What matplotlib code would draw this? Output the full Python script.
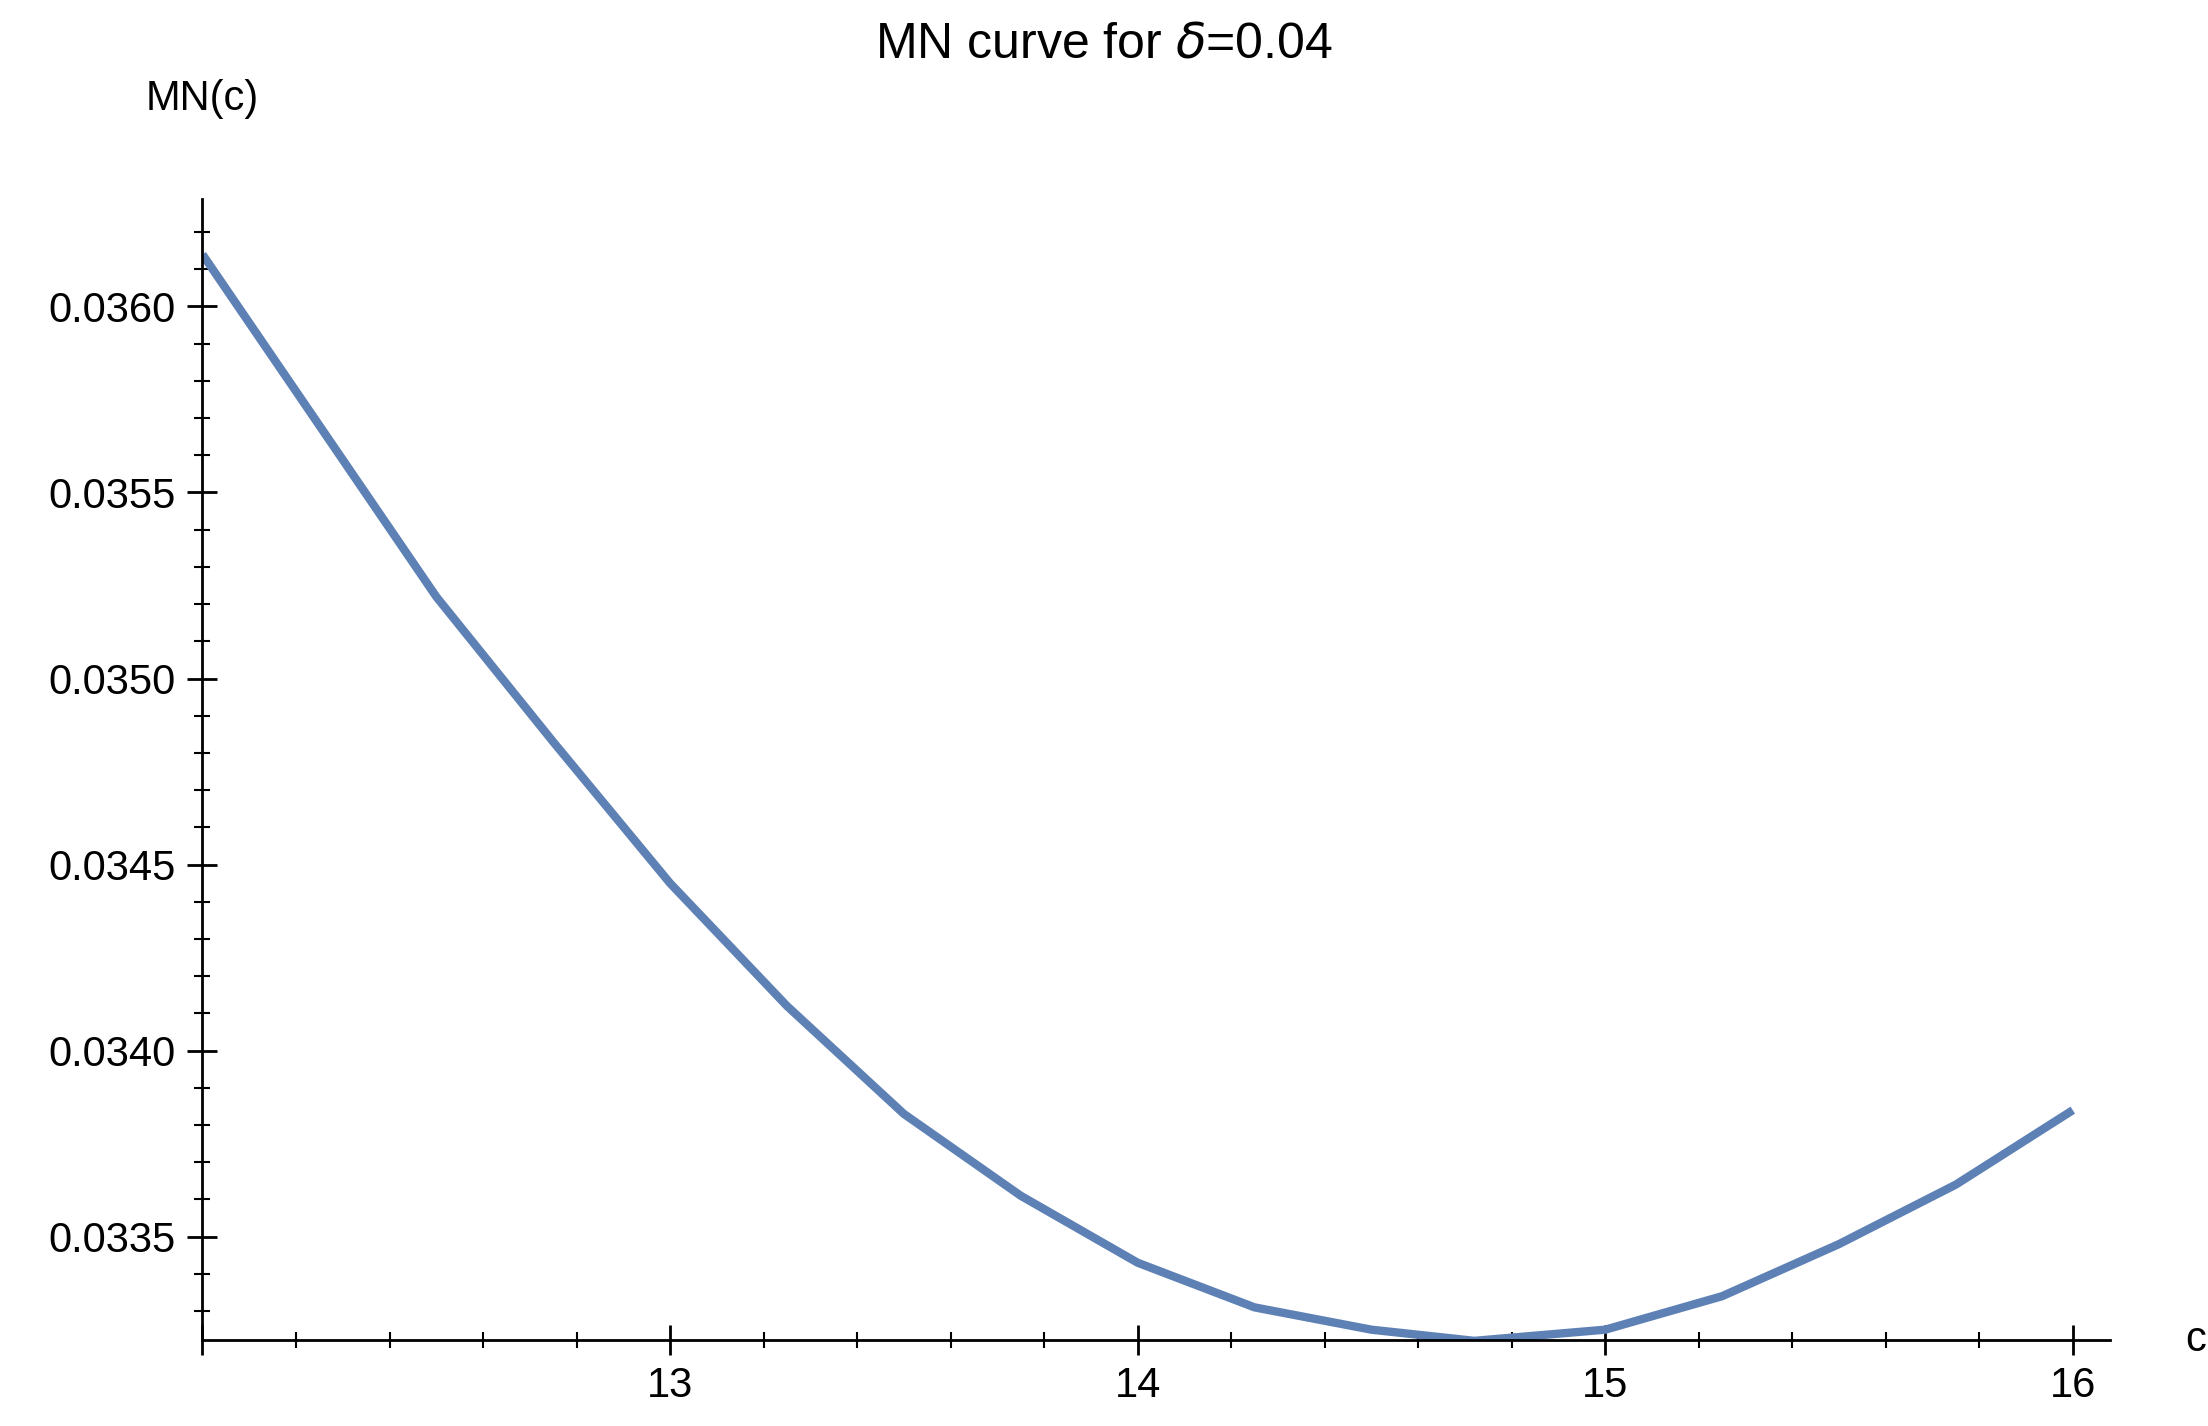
import matplotlib
matplotlib.use("Agg")
import matplotlib.pyplot as plt
import numpy as np
from matplotlib.ticker import MultipleLocator, FixedLocator

c_vals = [12.0, 12.25, 12.5, 12.75, 13.0, 13.25, 13.5, 13.75, 14.0, 14.25, 14.5, 14.72, 15.0, 15.25, 15.5, 15.75, 16.0]
mn_vals = [0.03614, 0.03568, 0.03522, 0.03483, 0.03445, 0.03412, 0.03383, 0.03361, 0.03343, 0.03331, 0.03325, 0.03322, 0.03325, 0.03334, 0.03348, 0.03364, 0.03384]

plt.rcParams['font.family'] = ['Liberation Sans', 'DejaVu Sans']
fig = plt.figure(figsize=(22.08, 14.26), dpi=100)
ax = fig.add_axes([0.0917, 0.0605, 0.864, 0.80])
ax.plot(c_vals, mn_vals, color='#5e81b5', lw=6, solid_capstyle='butt')
ax.set_xlim(12.0, 16.08)
ax.set_ylim(0.033223, 0.036289)
for s in ['top', 'right']:
    ax.spines[s].set_visible(False)
for s in ['left', 'bottom']:
    ax.spines[s].set_linewidth(2)
ax.xaxis.set_major_locator(FixedLocator([12, 13, 14, 15, 16]))
ax.set_xticklabels(['', '13', '14', '15', '16'])
ax.xaxis.set_minor_locator(MultipleLocator(0.2))
ax.yaxis.set_major_locator(MultipleLocator(0.0005))
ax.yaxis.set_minor_locator(MultipleLocator(0.0001))
ax.yaxis.set_major_formatter(matplotlib.ticker.FormatStrFormatter('%.4f'))
ax.tick_params(which='major', direction='inout', length=22, width=2, labelsize=30, pad=8)
ax.tick_params(which='minor', direction='inout', length=12, width=1.5)
ax.text(1.045, 0.0, 'c', transform=ax.transAxes, fontsize=30, va='center', ha='center')
ax.text(-0.0, 1.07, 'MN(c)', transform=ax.transAxes, fontsize=30, va='bottom', ha='center')
fig.suptitle(r'MN curve for $\it{\delta}$=0.04', fontsize=36, y=0.985)
fig.savefig('out.png', dpi=100)
